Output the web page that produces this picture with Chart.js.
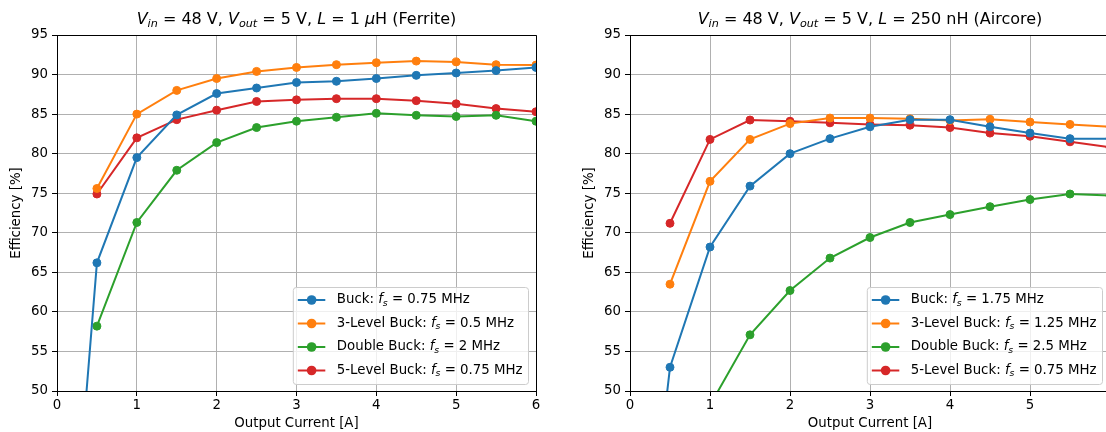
<!DOCTYPE html>
<html>
<head>
<meta charset="utf-8">
<title>Efficiency vs Output Current</title>
<script src="https://cdn.jsdelivr.net/npm/chart.js@4.4.0/dist/chart.umd.min.js"></script>
<style>
  html, body { margin: 0; padding: 0; background: #fff; width: 1106px; height: 432px; overflow: hidden; }
  .panel { position: absolute; top: 0; height: 432px; }
  #leftPanel { left: 0; width: 550px; }
  #rightPanel { left: 573px; width: 551px; }
</style>
</head>
<body>
<div class="panel" id="leftPanel"><canvas id="ferriteChart" width="550" height="432"></canvas></div>
<div class="panel" id="rightPanel"><canvas id="aircoreChart" width="551" height="432"></canvas></div>

<script>
// ==============================
// Data
// ==============================
const currents = [0.25, 0.5, 1, 1.5, 2, 2.5, 3, 3.5, 4, 4.5, 5, 5.5, 6];
const xTicks = [0, 1, 2, 3, 4, 5, 6];
const yTicks = [50, 55, 60, 65, 70, 75, 80, 85, 90, 95];

const topologies = ["Buck", "3-Level Buck", "Double Buck", "5-Level Buck"];
const colors = ["#1f77b4", "#ff7f0e", "#2ca02c", "#d62728"];

// L = 1 uH (Ferrite)
const ferriteFreqs  = ["0.75 MHz", "0.5 MHz", "2 MHz", "0.75 MHz"];
const ferriteBuck   = [35, 66.2, 79.5, 84.9, 87.6, 88.3, 89.0, 89.15, 89.5, 89.9, 90.2, 90.5, 90.9];
const ferrite3Level = [null, 75.6, 85.0, 88.0, 89.5, 90.4, 90.9, 91.25, 91.5, 91.7, 91.6, 91.25, 91.2];
const ferriteDouble = [null, 58.2, 71.3, 77.9, 81.4, 83.3, 84.1, 84.6, 85.1, 84.85, 84.7, 84.85, 84.1];
const ferrite5Level = [null, 74.9, 82.0, 84.3, 85.5, 86.6, 86.8, 86.95, 86.95, 86.7, 86.3, 85.7, 85.3];

// L = 250 nH (Aircore)
const aircoreFreqs  = ["1.75 MHz", "1.25 MHz", "2.5 MHz", "0.75 MHz"];
const aircoreBuck   = [31, 53.0, 68.2, 75.9, 80.0, 81.9, 83.4, 84.3, 84.3, 83.4, 82.6, 81.9, 81.9];
const aircore3Level = [null, 63.5, 76.5, 81.8, 83.8, 84.5, 84.5, 84.4, 84.2, 84.35, 84.0, 83.7, 83.4];
const aircoreDouble = [null, null, 48.2, 57.1, 62.7, 66.8, 69.4, 71.3, 72.3, 73.3, 74.2, 74.9, 74.7];
const aircore5Level = [null, 71.2, 81.8, 84.25, 84.1, 83.9, 83.7, 83.6, 83.3, 82.6, 82.2, 81.5, 80.8];

const ferriteTitle = [["V", "i"], ["in", "is"], [" = 48 V, ", ""], ["V", "i"], ["out", "is"],
  [" = 5 V, ", ""], ["L", "i"], [" = 1 ", ""], ["\u03bc", "i"], ["H (Ferrite)", ""]];
const aircoreTitle = [["V", "i"], ["in", "is"], [" = 48 V, ", ""], ["V", "i"], ["out", "is"],
  [" = 5 V, ", ""], ["L", "i"], [" = 250 nH (Aircore)", ""]];

const FONT = '"DejaVu Sans", sans-serif';
const BASE = 13.33;

// ==============================
// Rich text (italics + subscripts)
// ==============================
const setFont = (ctx, style, size) => {
  const sub = style === "is";
  const fs = sub ? size * 0.7 : size;
  ctx.font = (style ? "italic " : "") + fs + "px " + FONT;
};

const richWidth = (ctx, parts, size) => {
  let w = 0;
  parts.forEach(([t, st]) => { setFont(ctx, st, size); w += ctx.measureText(t).width; });
  return w;
};

const drawRich = (ctx, parts, x, y, size) => {
  let cx = x;
  parts.forEach(([t, st]) => {
    setFont(ctx, st, size);
    ctx.fillText(t, cx, y + (st === "is" ? size * 0.24 : 0));
    cx += ctx.measureText(t).width;
  });
};

const legendParts = (name, freq) => [[name + ": ", ""], ["f", "i"], ["s", "is"], [" = " + freq, ""]];

// ==============================
// Plugin: title, top/right spines, legend
// ==============================
const decorPlugin = (titleParts, freqs) => ({
  id: "decor",
  afterDraw(chart) {
    const ctx = chart.ctx;
    const a = chart.chartArea;
    ctx.save();

    // top + right spines
    ctx.strokeStyle = "#000";
    ctx.lineWidth = 1;
    ctx.beginPath();
    ctx.moveTo(Math.round(a.left) + 0.5, Math.round(a.top) + 0.5);
    ctx.lineTo(Math.round(a.right) + 0.5, Math.round(a.top) + 0.5);
    ctx.lineTo(Math.round(a.right) + 0.5, Math.round(a.bottom) + 0.5);
    ctx.stroke();

    // title
    ctx.fillStyle = "#000";
    ctx.textBaseline = "alphabetic";
    ctx.textAlign = "left";
    const tw = richWidth(ctx, titleParts, 16);
    drawRich(ctx, titleParts, (a.left + a.right) / 2 - tw / 2, 23.5, 16);

    // legend
    const labels = topologies.map((n, i) => legendParts(n, freqs[i]));
    const textW = Math.max(...labels.map(p => richWidth(ctx, p, BASE)));
    const boxW = 43.5 + textW + 6;
    const boxH = 97;
    const right = a.right - 7.5;
    const bottom = a.bottom - 6.5;
    const left = right - boxW;
    const top = bottom - boxH;

    ctx.beginPath();
    ctx.roundRect(left, top, boxW, boxH, 3);
    ctx.fillStyle = "rgba(255,255,255,0.8)";
    ctx.fill();
    ctx.strokeStyle = "#cccccc";
    ctx.stroke();

    labels.forEach((parts, i) => {
      const y = top + 12.5 + i * 23.5;
      ctx.strokeStyle = colors[i];
      ctx.lineWidth = 2;
      ctx.beginPath();
      ctx.moveTo(left + 4.5, y);
      ctx.lineTo(left + 32, y);
      ctx.stroke();
      ctx.beginPath();
      ctx.arc(left + 18.3, y, 4.8, 0, Math.PI * 2);
      ctx.fillStyle = colors[i];
      ctx.fill();

      ctx.fillStyle = "#000";
      ctx.textBaseline = "middle";
      drawRich(ctx, parts, left + 43.5, y, BASE);
    });

    ctx.restore();
  }
});

// ==============================
// Chart builder
// ==============================
const makeChart = (canvasId, series, titleParts, freqs) => {
  const ctx = document.getElementById(canvasId).getContext("2d");
  return new Chart(ctx, {
    type: "line",
    data: {
      datasets: series.map((vals, i) => ({
        label: topologies[i],
        data: currents.map((x, j) => ({ x: x, y: vals[j] })),
        borderColor: colors[i],
        backgroundColor: colors[i],
        borderWidth: 2,
        pointRadius: 4,
        pointBorderWidth: 1,
        pointBorderColor: colors[i],
        pointBackgroundColor: colors[i],
        tension: 0,
        spanGaps: false,
        clip: 0
      }))
    },
    options: {
      responsive: false,
      animation: false,
      devicePixelRatio: 1,
      layout: { padding: { left: 0, right: 14, top: 35, bottom: 0 } },
      plugins: { legend: { display: false }, tooltip: { enabled: false }, title: { display: false } },
      scales: {
        x: {
          type: "linear",
          min: 0,
          max: 6,
          afterFit: s => { s.height = 41; },
          afterBuildTicks: s => { s.ticks = xTicks.map(v => ({ value: v })); },
          grid: { color: "#b0b0b0", lineWidth: 1, tickLength: 5, tickColor: "#000", drawTicks: true },
          border: { color: "#000", width: 1 },
          ticks: { color: "#000", padding: 2, font: { family: FONT, size: BASE }, maxRotation: 0 },
          title: { display: true, text: "Output Current [A]", color: "#000",
                   font: { family: FONT, size: BASE }, padding: { top: 0, bottom: 0 } }
        },
        y: {
          type: "linear",
          min: 50,
          max: 95,
          afterFit: s => { s.width = 57; },
          afterBuildTicks: s => { s.ticks = yTicks.map(v => ({ value: v })); },
          grid: { color: "#b0b0b0", lineWidth: 1, tickLength: 5, tickColor: "#000", drawTicks: true },
          border: { color: "#000", width: 1 },
          ticks: { color: "#000", padding: 4, font: { family: FONT, size: BASE } },
          title: { display: true, text: "Efficiency [%]", color: "#000",
                   font: { family: FONT, size: BASE }, padding: { top: 9, bottom: 0 } }
        }
      }
    },
    plugins: [decorPlugin(titleParts, freqs)]
  });
};

makeChart("ferriteChart", [ferriteBuck, ferrite3Level, ferriteDouble, ferrite5Level], ferriteTitle, ferriteFreqs);
makeChart("aircoreChart", [aircoreBuck, aircore3Level, aircoreDouble, aircore5Level], aircoreTitle, aircoreFreqs);
</script>
</body>
</html>
